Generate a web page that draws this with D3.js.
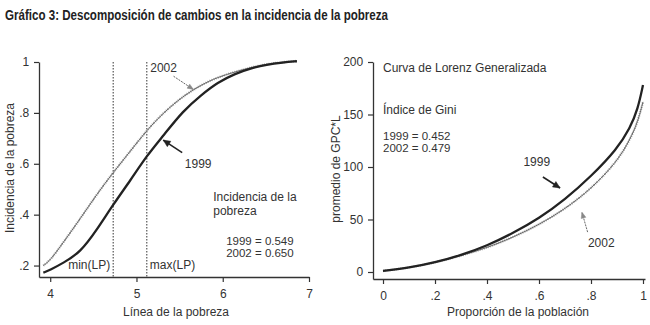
<!DOCTYPE html>
<html>
<head>
    <meta charset="utf-8">
    <title>Gráfico 3</title>
    <script src="https://d3js.org/d3.v7.min.js"></script>
    <style>
        body { margin: 0; background: #fff; }
        text { font-family: "Liberation Sans", Arial, sans-serif; fill: #333; }
    </style>
</head>
<body>
    <svg width="650" height="325" id="mainSvg"></svg>
    <script>
        // ---- data ----
        // panel 1: incidencia de la pobreza vs linea de la pobreza
        const lpValues = [3.92, 4.0, 4.15, 4.35, 4.54, 4.73, 4.93, 5.12, 5.31, 5.54, 5.75, 5.94, 6.15, 6.32, 6.51, 6.7, 6.86];
        const inc1999 = [0.172, 0.183, 0.21, 0.252, 0.34, 0.44, 0.535, 0.632, 0.71, 0.808, 0.87, 0.92, 0.955, 0.975, 0.99, 0.998, 1.003];
        const inc2002 = [0.2, 0.22, 0.29, 0.385, 0.48, 0.566, 0.65, 0.732, 0.8, 0.866, 0.91, 0.94, 0.962, 0.978, 0.992, 1.0, 1.004];
        const lpLines = [4.73, 5.12];
        const xTicksL = [4, 5, 6, 7];
        const yTicksL = [0.2, 0.4, 0.6, 0.8, 1];

        // panel 2: curva de Lorenz generalizada
        const popShare = [0, 0.1, 0.2, 0.3, 0.4, 0.5, 0.6, 0.7, 0.8, 0.9, 0.95, 0.98, 1.0];
        const glc1999 = [1, 4, 9, 16, 25, 37, 51, 69, 91, 117, 137, 155, 178];
        const glc2002 = [1, 4, 9, 15.5, 23, 33, 45, 60, 79, 105, 126, 143, 162];
        const xTicksR = [0, 0.2, 0.4, 0.6, 0.8, 1];
        const yTicksR = [0, 50, 100, 150, 200];

        const svg = d3.select("#mainSvg");

        svg.append("text")
            .attr("x", 5).attr("y", 20)
            .attr("font-size", 14).attr("font-weight", "bold")
            .attr("textLength", 383).attr("lengthAdjust", "spacingAndGlyphs")
            .style("fill", "#222")
            .text("Gráfico 3: Descomposición de cambios en la incidencia de la pobreza");

        const fmtDec = d => d === 1 ? "1" : d3.format(".1f")(d).replace(/^0/, "");

        // ---- left panel ----
        const xL = d3.scaleLinear().domain([3.87, 7]).range([39, 309]);
        const yL = d3.scaleLinear().domain([0.155, 1]).range([277, 62]);

        const drawAxes = function (xs, ys, xt, yt, xf, yf) {
            const gx = svg.append("g").attr("transform", `translate(0,${ys.range()[0]})`)
                .call(d3.axisBottom(xs).tickValues(xt).tickFormat(xf).tickSize(5).tickSizeOuter(0));
            const gy = svg.append("g").attr("transform", `translate(${xs.range()[0]},0)`)
                .call(d3.axisLeft(ys).tickValues(yt).tickFormat(yf).tickSize(5).tickSizeOuter(0));
            [gx, gy].forEach(g => {
                g.select(".domain").attr("stroke", "#333").attr("stroke-width", 1.3);
                g.selectAll(".tick line").attr("stroke", "#333").attr("stroke-width", 1.2);
                g.selectAll(".tick text").attr("font-size", 12).style("fill", "#333")
                    .attr("font-family", "Liberation Sans, Arial, sans-serif");
            });
            gx.selectAll(".tick text").attr("dy", "1.05em");
            gy.selectAll(".tick text").attr("dx", "-0.15em");
        }

        drawAxes(xL, yL, xTicksL, yTicksL, d3.format("d"), fmtDec);

        // dotted lines
        svg.selectAll(".lpLine").data(lpLines).join("line")
            .attr("class", "lpLine")
            .attr("x1", d => xL(d)).attr("x2", d => xL(d))
            .attr("y1", yL(1)).attr("y2", yL(0.155))
            .attr("stroke", "#333").attr("stroke-width", 1)
            .attr("stroke-dasharray", "1.5,1.5");

        const lineL = d3.line().curve(d3.curveBasis)
            .x(d => xL(d[0])).y(d => yL(d[1]));

        const drawHatched = function (path) {
            svg.append("path").attr("d", path).attr("fill", "none")
                .attr("stroke", "#aaa").attr("stroke-width", 2.4)
                .attr("stroke-dasharray", "1,1.2");
            svg.append("path").attr("d", path).attr("fill", "none")
                .attr("stroke", "#666").attr("stroke-width", 1);
        }

        drawHatched(lineL(d3.zip(lpValues, inc2002)));
        svg.append("path").attr("d", lineL(d3.zip(lpValues, inc1999)))
            .attr("fill", "none").attr("stroke", "#222").attr("stroke-width", 2.3);

        // axis titles
        svg.append("text").attr("x", 176).attr("y", 316).attr("text-anchor", "middle")
            .attr("font-size", 12).text("Línea de la pobreza");
        svg.append("text").attr("transform", "translate(14,168) rotate(-90)")
            .attr("text-anchor", "middle").attr("font-size", 12).text("Incidencia de la pobreza");

        // annotations
        const addText = function (x, y, s, anchor, size) {
            svg.append("text").attr("x", x).attr("y", y)
                .attr("text-anchor", anchor || "start")
                .attr("font-size", size || 12).text(s);
        }
        const arrowHead = function (x1, y1, x2, y2, len, wid, fill) {
            const a = Math.atan2(y2 - y1, x2 - x1);
            const p = [
                [x2, y2],
                [x2 - len * Math.cos(a) + wid * Math.sin(a), y2 - len * Math.sin(a) - wid * Math.cos(a)],
                [x2 - len * Math.cos(a) - wid * Math.sin(a), y2 - len * Math.sin(a) + wid * Math.cos(a)]
            ];
            svg.append("path").attr("d", d3.line()(p) + "Z").attr("fill", fill).attr("stroke", fill)
                .attr("stroke-width", 0.5);
        }
        const arrow = function (x1, y1, x2, y2, bold) {
            svg.append("line").attr("x1", x1).attr("y1", y1).attr("x2", x2).attr("y2", y2)
                .attr("stroke", bold ? "#222" : "#555")
                .attr("stroke-width", bold ? 1.6 : 0.9)
                .attr("stroke-dasharray", bold ? null : "2,1");
            arrowHead(x1, y1, x2, y2, bold ? 7 : 6, bold ? 3.2 : 2.4, bold ? "#222" : "#888");
        }

        addText(xL(5.16), yL(0.96), "2002");
        arrow(xL(5.43), yL(0.944), xL(5.66), yL(0.892), false);
        addText(xL(5.56), yL(0.584), "1999");
        arrow(xL(5.53), yL(0.644), xL(5.31), yL(0.693), true);
        addText(xL(5.89), yL(0.452), "Incidencia de la");
        addText(xL(5.89), yL(0.4), "pobreza");
        addText(xL(6.04), yL(0.282), "1999 = 0.549", "start", 11.5);
        addText(xL(6.04), yL(0.232), "2002 = 0.650", "start", 11.5);
        addText(xL(lpLines[0]) - 3, yL(0.188), "min(LP)", "end");
        addText(xL(lpLines[1]) + 3, yL(0.188), "max(LP)");

        // ---- right panel ----
        const xR = d3.scaleLinear().domain([-0.0385, 1.0077]).range([373, 645]);
        const yR = d3.scaleLinear().domain([-6.67, 200]).range([279, 62]);

        drawAxes(xR, yR, xTicksR, yTicksR, d => d === 0 || d === 1 ? String(d) : fmtDec(d), d3.format("d"));

        const lineR = d3.line().curve(d3.curveBasis)
            .x(d => xR(d[0])).y(d => yR(d[1]));

        drawHatched(lineR(d3.zip(popShare, glc2002)));
        svg.append("path").attr("d", lineR(d3.zip(popShare, glc1999)))
            .attr("fill", "none").attr("stroke", "#222").attr("stroke-width", 2.3);

        svg.append("text").attr("x", 518).attr("y", 316).attr("text-anchor", "middle")
            .attr("font-size", 12).text("Proporción de la población");
        svg.append("text").attr("transform", "translate(340,169) rotate(-90)")
            .attr("text-anchor", "middle").attr("font-size", 12).text("promedio de GPC*L");

        addText(xR(0), yR(190), "Curva de Lorenz Generalizada");
        addText(xR(0), yR(150.5), "Índice de Gini");
        addText(xR(0), yR(125.5), "1999 = 0.452", "start", 11.5);
        addText(xR(0), yR(114), "2002 = 0.479", "start", 11.5);
        addText(xR(0.54), yR(101), "1999");
        arrow(xR(0.615), yR(90.5), xR(0.681), yR(80), true);
        addText(xR(0.788), yR(23.8), "2002");
        arrow(xR(0.787), yR(38), xR(0.765), yR(57), false);
    </script>
</body>
</html>
